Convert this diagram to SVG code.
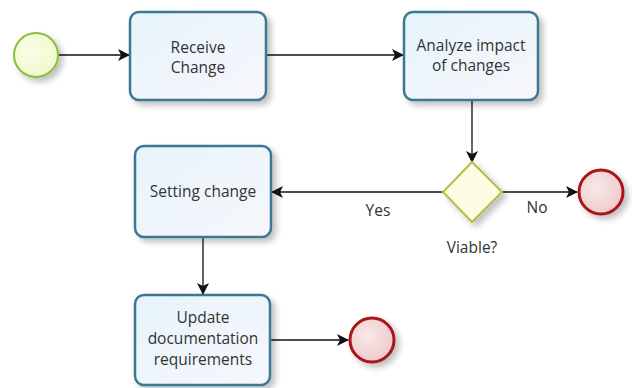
<svg xmlns="http://www.w3.org/2000/svg" width="632" height="388" viewBox="0 0 632 388">
<style>
.task{fill:url(#gTask);stroke:#3b7893;stroke-width:2.5}
.lbl{font-family:"Open Sans","Noto Sans",sans-serif;font-size:15.5px;fill:#333;text-anchor:middle}
.edge{stroke:#111;stroke-width:1.3;fill:none}
</style>
<defs>
<linearGradient id="gTask" x1="0" y1="0" x2="1" y2="1"><stop offset="0" stop-color="#e6f4fb"/><stop offset="1" stop-color="#f7f7fc"/></linearGradient>
<radialGradient id="gStart" cx="0.4" cy="0.4" r="0.7"><stop offset="0" stop-color="#fbfde9"/><stop offset="1" stop-color="#eef8c9"/></radialGradient>
<radialGradient id="gEnd" cx="0.4" cy="0.4" r="0.7"><stop offset="0" stop-color="#f8e8e8"/><stop offset="1" stop-color="#efc7c7"/></radialGradient>
<filter id="sh" x="-20%" y="-20%" width="150%" height="150%"><feGaussianBlur in="SourceAlpha" stdDeviation="3"/><feOffset dx="4" dy="4"/><feComponentTransfer><feFuncA type="linear" slope="0.25"/></feComponentTransfer><feMerge><feMergeNode/><feMergeNode in="SourceGraphic"/></feMerge></filter>
<marker id="arr" viewBox="0 0 12 12" refX="11" refY="6" markerWidth="12" markerHeight="12" markerUnits="userSpaceOnUse" orient="auto"><path d="M0,0 L12,6 L0,12 L3,6 Z" fill="#111"/></marker>
</defs>
<g id="connectors">
<line class="edge" x1="59" y1="55" x2="129" y2="55" marker-end="url(#arr)"/>
<line class="edge" x1="267" y1="55" x2="403" y2="55" marker-end="url(#arr)"/>
<line class="edge" x1="472" y1="100" x2="472" y2="162" marker-end="url(#arr)"/>
<line class="edge" x1="443" y1="192" x2="272" y2="192" marker-end="url(#arr)"/>
<line class="edge" x1="502" y1="192" x2="577" y2="192" marker-end="url(#arr)"/>
<line class="edge" x1="203" y1="237" x2="203" y2="294" marker-end="url(#arr)"/>
<line class="edge" x1="270" y1="340" x2="348" y2="340" marker-end="url(#arr)"/>
<text class="lbl" x="378" y="216">Yes</text>
<text class="lbl" x="537" y="213">No</text>
</g>
<g id="start"><circle cx="36" cy="55" r="22" fill="url(#gStart)" stroke="#8dbd3c" stroke-width="2" filter="url(#sh)"/></g>
<g id="receive"><rect class="task" x="130" y="12" width="136" height="88" rx="9" filter="url(#sh)"/><text class="lbl" x="198" y="53">Receive</text><text class="lbl" x="198" y="73">Change</text></g>
<g id="analyze"><rect class="task" x="404" y="12" width="134" height="88" rx="9" filter="url(#sh)"/><text class="lbl" x="471" y="51">Analyze impact</text><text class="lbl" x="471" y="71">of changes</text></g>
<g id="viable"><polygon points="472,162 502,192 472,222 443,192" fill="#fdfde3" stroke="#b9bb4c" stroke-width="2" filter="url(#sh)"/><text class="lbl" x="472" y="253">Viable?</text></g>
<g id="endNo"><circle cx="601" cy="192" r="22" fill="url(#gEnd)" stroke="#a8151b" stroke-width="3" filter="url(#sh)"/></g>
<g id="setting"><rect class="task" x="135" y="146" width="136" height="91" rx="9" filter="url(#sh)"/><text class="lbl" x="203" y="197">Setting change</text></g>
<g id="update"><rect class="task" x="135" y="295" width="135" height="90" rx="9" filter="url(#sh)"/><text class="lbl" x="203" y="323">Update</text><text class="lbl" x="203" y="344">documentation</text><text class="lbl" x="203" y="365">requirements</text></g>
<g id="endUpdate"><circle cx="372" cy="340" r="22" fill="url(#gEnd)" stroke="#a8151b" stroke-width="3" filter="url(#sh)"/></g>
</svg>
